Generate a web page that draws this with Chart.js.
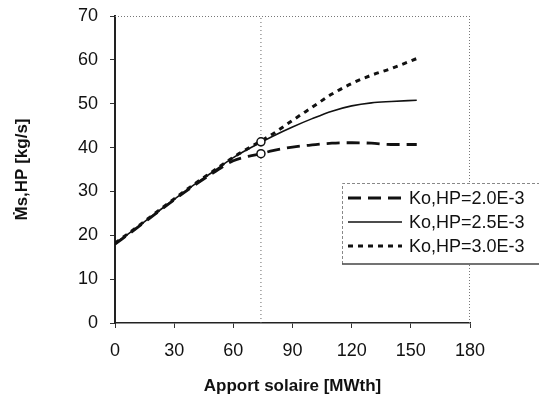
<!DOCTYPE html>
<html>
<head>
<meta charset="utf-8">
<script src="https://cdn.jsdelivr.net/npm/chart.js@4/dist/chart.umd.min.js"></script>
<style>
  html, body { margin: 0; padding: 0; background: #fff; }
  #wrap { width: 539px; height: 397px; }
</style>
</head>
<body>
<div id="wrap"><canvas id="chart" width="539" height="397"></canvas></div>
<script>
// values
const apport = [0, 10, 20, 30, 40, 50, 60, 74, 80, 90, 100, 110, 120, 130, 140, 153];
const ko20 = [18.0, 21.3, 24.7, 28.1, 31.3, 34.3, 37.0, 38.6, 39.3, 40.1, 40.6, 41.0, 41.1, 41.0, 40.7, 40.7];
const ko25 = [18.1, 21.4, 24.8, 28.2, 31.5, 34.6, 37.7, 41.2, 42.6, 44.7, 46.6, 48.3, 49.5, 50.2, 50.5, 50.8];
const ko30 = [18.2, 21.5, 24.9, 28.3, 31.6, 34.7, 37.8, 41.5, 43.1, 46.2, 49.2, 52.2, 54.6, 56.5, 58.0, 60.3];
const seriesLabels = ['Ko,HP=2.0E-3', 'Ko,HP=2.5E-3', 'Ko,HP=3.0E-3'];

// design point circles and the vertical dotted line
const designX = [74, 74];
const designY = [38.6, 41.3];
const refX = [74, 74];
const refY = [0, 70];

const xTicks = [0, 30, 60, 90, 120, 150, 180];
const yTicks = [0, 10, 20, 30, 40, 50, 60, 70];

const FONT = "'Liberation Sans', Arial, sans-serif";
const INK = '#111';

function pts(xs, ys) {
  return xs.map((x, i) => ({ x: x, y: ys[i] }));
}

const lineDefaults = {
  showLine: true,
  pointRadius: 0,
  fill: false,
  borderColor: INK,
  cubicInterpolationMode: 'monotone'
};

// dotted frame on top and right of the plot
const framePlugin = {
  id: 'frame',
  beforeDatasetsDraw(chart) {
    const { ctx, chartArea: a } = chart;
    ctx.save();
    ctx.strokeStyle = '#777';
    ctx.lineWidth = 1;
    ctx.setLineDash([1, 2]);
    ctx.beginPath();
    ctx.moveTo(a.left, a.top + 0.5);
    ctx.lineTo(a.right, a.top + 0.5);
    ctx.moveTo(a.right - 0.5, a.top);
    ctx.lineTo(a.right - 0.5, a.bottom);
    ctx.stroke();
    ctx.restore();
  }
};

// boxed legend that sits over the right edge
const legendBox = {
  id: 'legendBox',
  afterDraw(chart) {
    const ctx = chart.ctx;
    const bx = 342, by = 183, bw = 200, bh = 81;
    ctx.save();
    ctx.fillStyle = '#fff';
    ctx.fillRect(bx, by, bw, bh);
    ctx.strokeStyle = '#888';
    ctx.lineWidth = 1;
    ctx.setLineDash([3, 2]);
    ctx.beginPath();
    ctx.moveTo(bx + 0.5, by + bh);
    ctx.lineTo(bx + 0.5, by + 0.5);
    ctx.lineTo(bx + bw, by + 0.5);
    ctx.stroke();
    ctx.setLineDash([]);
    ctx.strokeStyle = '#444';
    ctx.lineWidth = 1.5;
    ctx.beginPath();
    ctx.moveTo(bx, by + bh);
    ctx.lineTo(bx + bw, by + bh);
    ctx.stroke();

    ctx.font = '18px ' + FONT;
    ctx.textBaseline = 'middle';
    ctx.fillStyle = INK;
    seriesLabels.forEach((lab, i) => {
      const ds = chart.data.datasets.find(d => d.label === lab);
      const y = by + 15 + i * 24;
      ctx.strokeStyle = INK;
      ctx.lineWidth = ds.borderWidth;
      ctx.setLineDash(ds.borderDash || []);
      ctx.beginPath();
      ctx.moveTo(bx + 6, y);
      ctx.lineTo(bx + 60, y);
      ctx.stroke();
      ctx.fillText(lab, bx + 67, y + 1);
    });
    ctx.restore();
  }
};

const ctx = document.getElementById('chart').getContext('2d');
new Chart(ctx, {
  type: 'scatter',
  data: {
    datasets: [
      {
        label: 'design',
        data: pts(designX, designY),
        showLine: false,
        pointRadius: 4,
        pointBackgroundColor: '#fff',
        pointBorderColor: INK,
        pointBorderWidth: 1.5
      },
      Object.assign({}, lineDefaults, {
        label: seriesLabels[0],
        data: pts(apport, ko20),
        borderWidth: 2.8,
        borderDash: [13, 7]
      }),
      Object.assign({}, lineDefaults, {
        label: seriesLabels[1],
        data: pts(apport, ko25),
        borderWidth: 1.6
      }),
      Object.assign({}, lineDefaults, {
        label: seriesLabels[2],
        data: pts(apport, ko30),
        borderWidth: 3,
        borderDash: [5, 5]
      }),
      {
        label: 'ref',
        data: pts(refX, refY),
        showLine: true,
        pointRadius: 0,
        borderColor: '#666',
        borderWidth: 1,
        borderDash: [1, 3]
      }
    ]
  },
  options: {
    responsive: false,
    animation: false,
    layout: { padding: { left: 0, top: 16, right: 69, bottom: 0 } },
    plugins: {
      legend: { display: false },
      tooltip: { enabled: false }
    },
    scales: {
      x: {
        type: 'linear',
        min: 0,
        max: 180,
        afterBuildTicks: s => { s.ticks = xTicks.map(v => ({ value: v })); },
        afterFit: s => { s.height = 74; s.paddingLeft = 0; s.paddingRight = 0; },
        grid: { drawOnChartArea: false, tickLength: 5, color: '#333' },
        border: { color: '#222', width: 1.5 },
        ticks: { padding: 12, maxRotation: 0, color: INK, font: { family: FONT, size: 18 } },
        title: {
          display: true,
          text: 'Apport solaire [MWth]',
          color: INK,
          padding: 0,
          font: { family: FONT, size: 17, weight: 'bold' }
        }
      },
      y: {
        type: 'linear',
        min: 0,
        max: 70,
        afterBuildTicks: s => { s.ticks = yTicks.map(v => ({ value: v })); },
        afterFit: s => { s.width = 115; s.paddingTop = 0; s.paddingBottom = 0; },
        grid: { drawOnChartArea: false, tickLength: 5, color: '#333' },
        border: { color: '#222', width: 2 },
        ticks: { padding: 12, color: INK, font: { family: FONT, size: 18 } },
        title: {
          display: true,
          text: 'Ṁs,HP [kg/s]',
          color: INK,
          padding: { top: 12, bottom: 0 },
          font: { family: FONT, size: 17, weight: 'bold' }
        }
      }
    }
  },
  plugins: [framePlugin, legendBox]
});
</script>
</body>
</html>
